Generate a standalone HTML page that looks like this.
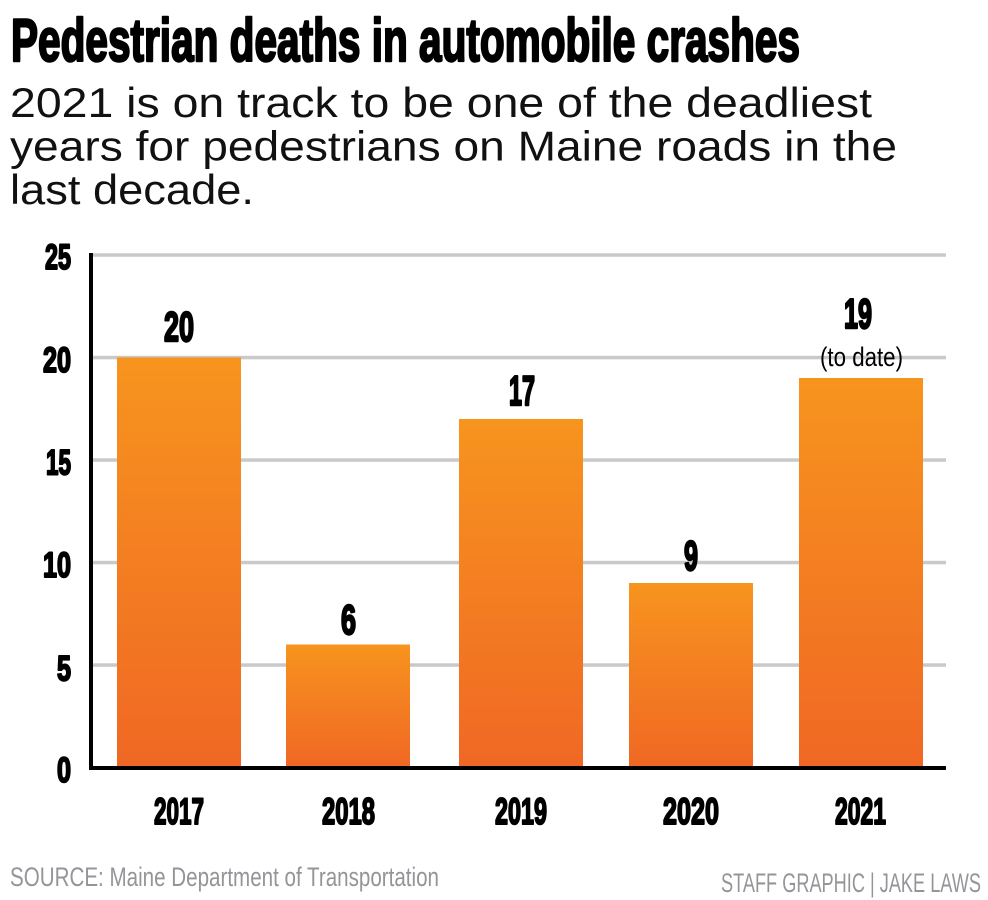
<!DOCTYPE html>
<html>
<head>
<meta charset="utf-8">
<style>
  html, body { margin: 0; padding: 0; background: #ffffff; }
  body { width: 988px; height: 900px; overflow: hidden; }
  svg { display: block; }
  .cond { font-family: "Liberation Sans Narrow", "Liberation Sans", sans-serif; }
  .bold { font-weight: bold; fill: #000; stroke: #000; stroke-linejoin: round; }
  .sub { font-family: "Liberation Sans", sans-serif; fill: #111; }
  .foot { font-family: "Liberation Sans Narrow", "Liberation Sans", sans-serif; fill: #939598; }
</style>
</head>
<body>
<svg width="988" height="900" viewBox="0 0 988 900" xmlns="http://www.w3.org/2000/svg">
  <defs>
    <linearGradient id="bar" x1="0" y1="0" x2="0" y2="1">
      <stop offset="0" stop-color="#f7941e"/>
      <stop offset="1" stop-color="#f06824"/>
    </linearGradient>
  </defs>
  <rect x="0" y="0" width="988" height="900" fill="#ffffff"/>

  <!-- Title -->
  <text x="11" y="61" class="cond bold" font-size="60" stroke-width="2.4" textLength="789" lengthAdjust="spacingAndGlyphs">Pedestrian deaths in automobile crashes</text>

  <!-- Subtitle -->
  <text x="10" y="117" class="sub" font-size="42" textLength="862" lengthAdjust="spacingAndGlyphs">2021 is on track to be one of the deadliest</text>
  <text x="10" y="160.5" class="sub" font-size="42" textLength="887" lengthAdjust="spacingAndGlyphs">years for pedestrians on Maine roads in the</text>
  <text x="10" y="204" class="sub" font-size="42" textLength="244" lengthAdjust="spacingAndGlyphs">last decade.</text>

  <!-- Gridlines -->
  <g fill="#c9c9cb">
    <rect x="93" y="253.3" width="853" height="3.5"/>
    <rect x="93" y="355.8" width="853" height="3.5"/>
    <rect x="93" y="458.3" width="853" height="3.5"/>
    <rect x="93" y="560.8" width="853" height="3.5"/>
    <rect x="93" y="663.3" width="853" height="3.5"/>
  </g>

  <!-- Bars -->
  <g fill="url(#bar)">
    <rect x="117" y="357.5" width="124" height="408.5"/>
    <rect x="286" y="644.5" width="124" height="121.5"/>
    <rect x="459" y="419" width="124" height="347"/>
    <rect x="629" y="583" width="124" height="183"/>
    <rect x="799" y="378" width="124" height="388"/>
  </g>

  <!-- Axes -->
  <rect x="89" y="253" width="4" height="517" fill="#000"/>
  <rect x="89" y="766" width="857" height="4" fill="#000"/>

  <!-- Y tick labels -->
  <g class="cond bold" font-size="35" stroke-width="2">
    <text x="45" y="269" textLength="26" lengthAdjust="spacingAndGlyphs">25</text>
    <text x="43" y="372" textLength="28" lengthAdjust="spacingAndGlyphs">20</text>
    <text x="46" y="474.5" textLength="25" lengthAdjust="spacingAndGlyphs">15</text>
    <text x="43" y="577" textLength="28" lengthAdjust="spacingAndGlyphs">10</text>
    <text x="57" y="680.5" textLength="14" lengthAdjust="spacingAndGlyphs">5</text>
    <text x="57" y="782" textLength="14" lengthAdjust="spacingAndGlyphs">0</text>
  </g>

  <!-- Value labels -->
  <g class="cond bold" font-size="42" stroke-width="2.4">
    <text x="164" y="341" textLength="30" lengthAdjust="spacingAndGlyphs">20</text>
    <text x="341" y="634" textLength="15" lengthAdjust="spacingAndGlyphs">6</text>
    <text x="509" y="405" textLength="26" lengthAdjust="spacingAndGlyphs">17</text>
    <text x="684" y="570" textLength="14" lengthAdjust="spacingAndGlyphs">9</text>
    <text x="844" y="328" textLength="28" lengthAdjust="spacingAndGlyphs">19</text>
  </g>
  <text x="820" y="366" class="cond" font-size="27" fill="#000" textLength="83" lengthAdjust="spacingAndGlyphs">(to date)</text>

  <!-- Year labels -->
  <g class="cond bold" font-size="37" stroke-width="2">
    <text x="154" y="824" textLength="50" lengthAdjust="spacingAndGlyphs">2017</text>
    <text x="322" y="824" textLength="53" lengthAdjust="spacingAndGlyphs">2018</text>
    <text x="495" y="824" textLength="52" lengthAdjust="spacingAndGlyphs">2019</text>
    <text x="663" y="824" textLength="56" lengthAdjust="spacingAndGlyphs">2020</text>
    <text x="835" y="824" textLength="51" lengthAdjust="spacingAndGlyphs">2021</text>
  </g>

  <!-- Footer -->
  <text x="10" y="886" class="foot" font-size="27" textLength="429" lengthAdjust="spacingAndGlyphs">SOURCE: Maine Department of Transportation</text>
  <text x="721" y="892" class="foot" font-size="27" textLength="260" lengthAdjust="spacingAndGlyphs">STAFF GRAPHIC | JAKE LAWS</text>
</svg>
</body>
</html>
